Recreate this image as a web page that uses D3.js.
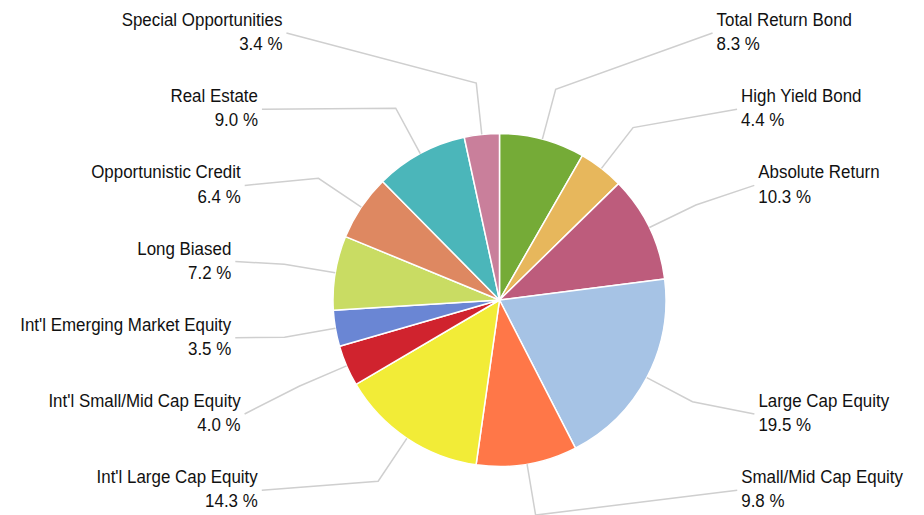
<!DOCTYPE html>
<html>
<head>
<meta charset="utf-8">
<script src="https://cdn.jsdelivr.net/npm/d3@7"></script>
<style>
  html, body { margin: 0; padding: 0; background: #fff; }
  svg { display: block; }
  .lbl { font-family: "Liberation Sans", Arial, sans-serif; font-size: 18.7px; fill: #111; }
</style>
</head>
<body>
<svg id="chart" width="924" height="515"></svg>
<script>
// Allocation by strategy (percent of portfolio), clockwise from 12 o'clock
const categories = [
  "Total Return Bond", "High Yield Bond", "Absolute Return", "Large Cap Equity",
  "Small/Mid Cap Equity", "Int'l Large Cap Equity", "Int'l Small/Mid Cap Equity",
  "Int'l Emerging Market Equity", "Long Biased", "Opportunistic Credit",
  "Real Estate", "Special Opportunities"
];
const values = [8.3, 4.4, 10.3, 19.5, 9.8, 14.3, 4.0, 3.5, 7.2, 6.4, 9.0, 3.4];
const colors = [
  "#75ab37", "#e7b75c", "#bd5c7c", "#a6c3e5", "#ff7748", "#f2ec37",
  "#d0232e", "#6a86d4", "#c9dc63", "#de8861", "#4bb6ba", "#c97f9b"
];

const width = 924, height = 515;
const cx = 499.5, cy = 300, radius = 166.5;
const elbowRadius = radius * 1.31;

const svg = d3.select("#chart");
const root = svg.append("g").attr("transform", `translate(${cx},${cy})`);

const data = categories.map((name, i) => ({ name, value: values[i], color: colors[i] }));

const pie = d3.pie().sort(null).value(d => d.value).startAngle(0).endAngle(2 * Math.PI);
const arcs = pie(data);
const arc = d3.arc().innerRadius(0).outerRadius(radius);

// slices
root.selectAll("path.slice")
  .data(arcs)
  .join("path")
  .attr("class", "slice")
  .attr("d", arc)
  .attr("fill", d => d.data.color)
  .attr("stroke", "#fff")
  .attr("stroke-width", 1.5)
  .attr("stroke-linejoin", "round");

// label layout: labels sit in evenly spaced rows on each side of the pie
const rowCount = 7, rowTop = 33 - cy, rowStep = 76.2;
const rows = d3.range(rowCount).map(k => rowTop + k * rowStep);
const polar = (a, r) => [Math.sin(a) * r, -Math.cos(a) * r];

const labels = arcs.map(d => {
  const mid = (d.startAngle + d.endAngle) / 2;
  const edge = polar(mid, radius);
  const elbow = polar(mid, elbowRadius);
  const side = elbow[0] >= 0 ? 1 : -1;
  return { d, mid, edge, elbow, side };
});

[1, -1].forEach(side => {
  const group = labels.filter(l => l.side === side);
  const taken = new Set();
  const nearest = l => d3.minIndex(rows, r => Math.abs(r - l.elbow[1]));
  group
    .map(l => ({ l, dist: Math.abs(rows[nearest(l)] - l.elbow[1]) }))
    .sort((a, b) => a.dist - b.dist)
    .forEach(({ l }) => {
      const free = d3.range(rowCount).filter(k => !taken.has(k));
      const k = free[d3.minIndex(free, k => Math.abs(rows[k] - l.elbow[1]))];
      taken.add(k);
      l.row = k;
    });
});

// rows curve inwards towards the top and bottom
labels.forEach(l => {
  const y = rows[l.row];
  const xOff = 265.6 - 0.001524 * Math.pow(Math.abs(y), 1.87);
  l.end = [l.side * xOff, y];
});

// leader lines
root.selectAll("polyline.leader")
  .data(labels)
  .join("polyline")
  .attr("class", "leader")
  .attr("points", l => [l.edge, l.elbow, l.end].map(p => p.join(",")).join(" "))
  .attr("fill", "none")
  .attr("stroke", "#cfcfcf")
  .attr("stroke-width", 1.5);

// label text (name + percentage)
const lg = root.selectAll("g.lbl")
  .data(labels)
  .join("g")
  .attr("class", "lbl")
  .attr("transform", l => `translate(${l.end[0] + l.side * 4},${l.end[1]}) scale(0.905,1)`);

lg.append("text")
  .attr("class", "lbl")
  .attr("y", -7)
  .attr("text-anchor", l => l.side > 0 ? "start" : "end")
  .text(l => l.d.data.name);

lg.append("text")
  .attr("class", "lbl")
  .attr("y", 17.3)
  .attr("text-anchor", l => l.side > 0 ? "start" : "end")
  .text(l => d3.format(".1f")(l.d.data.value) + " %");
</script>
</body>
</html>
